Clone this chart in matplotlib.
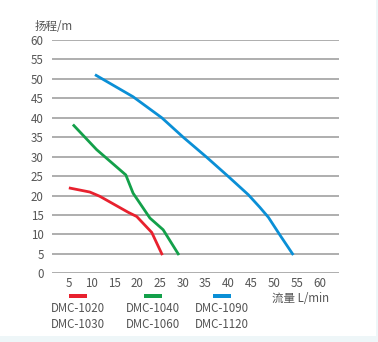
import matplotlib.pyplot as plt
from matplotlib.patches import Rectangle

plt.rcParams['font.family'] = ['Noto Sans CJK SC', 'DejaVu Sans']

# pump curves: flow (L/min) vs head (m)
red_q = [5.3, 9.6, 11.8, 18.0, 19.9, 23.2, 25.4]
red_h = [21.9, 20.9, 19.8, 15.7, 14.6, 10.5, 5.0]

green_q = [6.1, 11.1, 17.5, 19.1, 22.8, 25.7, 29.0]
green_h = [38.0, 31.8, 25.3, 20.6, 14.2, 11.2, 5.0]

blue_q = [11.0, 19.1, 25.4, 30.1, 35.2, 40.0, 44.4, 46.9, 48.8, 51.3, 54.1]
blue_h = [50.9, 45.4, 40.0, 35.0, 29.9, 24.9, 20.2, 17.0, 14.4, 9.9, 5.0]

xticks = [5, 10, 15, 20, 25, 30, 35, 40, 45, 50, 55, 60]
yticks = [0, 5, 10, 15, 20, 25, 30, 35, 40, 45, 50, 55, 60]

legend_colors = ['#e8212e', '#13a04a', '#0a8fd6']
legend_names = [['DMC-1020', 'DMC-1030'], ['DMC-1040', 'DMC-1060'], ['DMC-1090', 'DMC-1120']]

W, H = 378, 342
fig = plt.figure(figsize=(W / 100, H / 100), dpi=100, facecolor='#eef6f8')
# white card behind everything
card = Rectangle((0, 1 - 336 / H), 376 / W, 336 / H, transform=fig.transFigure,
                 facecolor='white', edgecolor='none', zorder=-10)
fig.patches.append(card)

ax = fig.add_axes([52 / W, 1 - 273.3 / H, (339 - 52) / W, (273.3 - 40) / H])
ax.set_zorder(2)
ax.set_facecolor('none')
ax.set_xlim(1.3, 64.3)
ax.set_ylim(0, 60)

for y in yticks:
    ax.axhline(y, color='#a8a8a8', lw=1.3, zorder=1)

ax.plot(red_q, red_h, color=legend_colors[0], lw=2, zorder=3)
ax.plot(green_q, green_h, color=legend_colors[1], lw=2, zorder=3)
ax.plot(blue_q, blue_h, color=legend_colors[2], lw=2, zorder=3)

for s in ax.spines.values():
    s.set_visible(False)
ax.set_xticks(xticks)
ax.set_yticks(yticks)
ax.tick_params(length=0, labelsize=8.3, labelcolor='#555555', pad=6)
ax.tick_params(axis='x', pad=3)

fig.text(35 / W, 1 - 27 / H, '扬程/m', fontsize=8.3, color='#555555', va='center', ha='left')
fig.text(272 / W, 1 - 298 / H, '流量 L/min', fontsize=8.3, color='#555555', va='center', ha='left')

# legend swatches and model names
centers = [78, 153, 222]
for cx, c, names in zip(centers, legend_colors, legend_names):
    fig.patches.append(Rectangle(((cx - 9) / W, 1 - 298 / H), 18 / W, 4 / H,
                                 transform=fig.transFigure, facecolor=c, edgecolor='none'))
    fig.text(cx / W, 1 - 309 / H, names[0], fontsize=8.3, color='#555555', ha='center', va='center')
    fig.text(cx / W, 1 - 324 / H, names[1], fontsize=8.3, color='#555555', ha='center', va='center')

fig.savefig('out.png', dpi=100, facecolor=fig.get_facecolor())
